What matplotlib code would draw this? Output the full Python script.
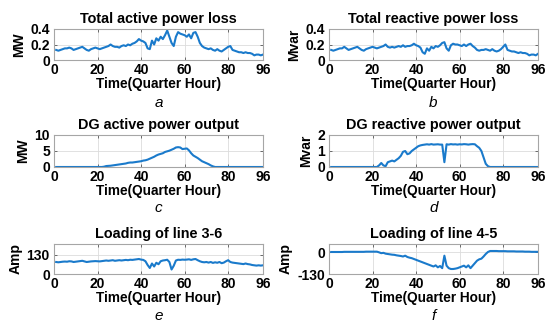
import numpy as np
import matplotlib
matplotlib.use("Agg")
from matplotlib import pyplot as plt
from matplotlib.ticker import FormatStrFormatter

plt.rcParams['font.family'] = ['Liberation Sans', 'DejaVu Sans']

# time axis: quarter hours
t = np.arange(1, 97)

# total active power loss (MW)
p_loss = [0.13, 0.12, 0.13, 0.14, 0.15, 0.15, 0.16, 0.15, 0.13, 0.14,
          0.15, 0.16, 0.17, 0.15, 0.13, 0.12, 0.14, 0.15, 0.16, 0.15,
          0.14, 0.15, 0.16, 0.17, 0.18, 0.20, 0.18, 0.17, 0.17, 0.16,
          0.18, 0.19, 0.18, 0.20, 0.19, 0.21, 0.22, 0.24, 0.27, 0.25,
          0.24, 0.22, 0.15, 0.14, 0.25, 0.20, 0.28, 0.25, 0.30, 0.27,
          0.32, 0.38, 0.30, 0.22, 0.18, 0.30, 0.36, 0.34, 0.33, 0.32,
          0.30, 0.33, 0.28, 0.35, 0.36, 0.30, 0.22, 0.18, 0.16, 0.15,
          0.14, 0.15, 0.13, 0.12, 0.14, 0.12, 0.11, 0.13, 0.15, 0.17,
          0.18, 0.13, 0.12, 0.11, 0.10, 0.10, 0.09, 0.10, 0.09, 0.09,
          0.08, 0.06, 0.07, 0.07, 0.06, 0.07]

# total reactive power loss (Mvar)
q_loss = [0.13, 0.12, 0.13, 0.14, 0.15, 0.15, 0.17, 0.15, 0.13, 0.14,
          0.15, 0.16, 0.17, 0.15, 0.13, 0.12, 0.14, 0.15, 0.16, 0.17,
          0.16, 0.15, 0.16, 0.17, 0.18, 0.20, 0.17, 0.16, 0.17, 0.16,
          0.17, 0.18, 0.17, 0.19, 0.17, 0.18, 0.18, 0.19, 0.21, 0.19,
          0.18, 0.16, 0.10, 0.08, 0.15, 0.12, 0.17, 0.15, 0.18, 0.17,
          0.19, 0.22, 0.23, 0.15, 0.12, 0.19, 0.21, 0.20, 0.20, 0.19,
          0.18, 0.20, 0.18, 0.20, 0.21, 0.18, 0.16, 0.13, 0.12, 0.13,
          0.13, 0.14, 0.13, 0.12, 0.14, 0.12, 0.11, 0.12, 0.14, 0.17,
          0.20, 0.13, 0.12, 0.11, 0.11, 0.10, 0.09, 0.10, 0.09, 0.09,
          0.08, 0.06, 0.07, 0.07, 0.06, 0.08]

# DG active power output (MW)
dg_p = [0] * 22 + [
    0.1, 0.3, 0.35, 0.4, 0.5, 0.6, 0.7, 0.8,
    0.9, 1.0, 1.1, 1.3, 1.4, 1.4, 1.5, 1.6, 1.7, 1.8,
    2.0, 2.1, 2.3, 2.6, 2.9, 3.2, 3.6, 3.9, 4.1, 4.3,
    4.7, 4.9, 5.1, 5.4, 5.7, 6.1, 6.2, 6.1, 5.6, 5.7,
    5.8, 5.2, 4.3, 3.6, 3.2, 2.8, 2.3, 1.8, 1.5, 1.2,
    0.9, 0.5, 0.2] + [0] * 23

# DG reactive power output (Mvar)
dg_q = [0] * 22 + [
    0.1, 0.25, 0.1, 0.05, 0.3, 0.35, 0.4, 0.35,
    0.45, 0.55, 0.7, 0.95, 1.0, 0.8, 0.85, 1.0, 1.1, 1.2,
    1.3, 1.35, 1.38, 1.4, 1.42, 1.4, 1.43, 1.4, 1.41, 1.42,
    1.4, 1.4, 0.3, 1.42, 1.4, 1.43, 1.41, 1.42, 1.4, 1.42,
    1.41, 1.43, 1.42, 1.4, 1.42, 1.43, 1.42, 1.3, 1.2, 1.0,
    0.6, 0.2, 0.05] + [0] * 23

# loading of line 3-6 (Amp)
line36 = [80, 78, 80, 82, 83, 82, 85, 84, 80, 82,
          84, 86, 88, 84, 80, 82, 84, 85, 86, 85,
          84, 86, 88, 90, 88, 90, 92, 88, 90, 92,
          90, 92, 94, 92, 95, 94, 96, 98, 100, 96,
          94, 85, 60, 40, 70, 50, 75, 65, 85, 90,
          92, 95, 80, 30, 55, 90, 95, 94, 96, 95,
          96, 98, 94, 98, 100, 92, 85, 80, 78, 80,
          76, 80, 74, 78, 75, 80, 72, 76, 85, 92,
          80, 76, 74, 72, 70, 68, 66, 70, 66, 64,
          60, 58, 56, 58, 56, 58]

# loading of line 4-5 (Amp)
line45 = [2, 2, 2, 2, 2, 2, 3, 3, 3, 3,
          3, 3, 3, 3, 3, 3, 4, 4, 4, 4,
          4, 4, 0, -5, -3, -8, -10, -12, -14, -15,
          -18, -20, -22, -25, -20, -28, -32, -35, -40, -45,
          -50, -55, -60, -65, -70, -75, -80, -85, -78, -90,
          -82, -95, -20, -80, -95, -100, -100, -98, -95, -90,
          -85, -80, -90, -78, -95, -80, -65, -50, -42, -38,
          -25, -10, 2, 8, 8, 8, 8, 7, 7, 7,
          7, 6, 6, 6, 6, 5, 5, 5, 5, 4,
          4, 4, 3, 3, 3, 3]

series = [p_loss, q_loss, dg_p, dg_q, line36, line45]
titles = ['Total active power loss', 'Total reactive power loss',
          'DG active power output', 'DG reactive power output',
          'Loading of line 3-6', 'Loading of line 4-5']
ylabels = ['MW', 'Mvar', 'MW', 'Mvar', 'Amp', 'Amp']
yticks = [[0, 0.2, 0.4], [0, 0.2, 0.4], [0, 5, 10], [0, 1, 2], [0, 130], [-130, 0]]
ylims = [(0, 0.4), (0, 0.4), (0, 10), (0, 2), (0, 200), (-130, 50)]
letters = ['a', 'b', 'c', 'd', 'e', 'f']
xticks = [0, 20, 40, 60, 80, 96]

W, H = 549, 327
fig = plt.figure(figsize=(W / 100, H / 100), dpi=100)

# axes boxes in pixels: (left, top, right, bottom)
cols = [(54, 263), (329, 538)]
rows = [(29, 60), (135, 167), (244, 274)]
letter_y = [103, 208, 316]

for i in range(6):
    r, c = divmod(i, 2)
    x0, x1 = cols[c]
    y0, y1 = rows[r]
    ax = fig.add_axes([x0 / W, 1 - y1 / H, (x1 - x0) / W, (y1 - y0) / H])
    ax.plot(t, series[i], color='#1a7acb', lw=1.5)
    ax.set_xlim(0, 96)
    ax.set_ylim(*ylims[i])
    ax.set_xticks(xticks)
    ax.set_yticks(yticks[i])
    ax.yaxis.set_major_formatter(FormatStrFormatter('%g'))
    ax.grid(True, color='#dcdcdc', lw=0.6)
    ax.tick_params(direction='in', length=2.5, width=0.6, color='#555555',
                   labelsize=10, top=True, right=True)
    ax.tick_params(axis='x', pad=2.5)
    ax.tick_params(axis='y', pad=3)
    for lab in ax.get_xticklabels() + ax.get_yticklabels():
        lab.set_fontweight('bold')
    for s in ax.spines.values():
        s.set_color('#a6a6a6')
        s.set_linewidth(0.8)
    ax.set_title(titles[i], fontsize=10.4, fontweight='bold', pad=4)
    ax.set_xlabel('Time(Quarter Hour)', fontsize=9.8, fontweight='bold', labelpad=0)
    ax.set_ylabel(ylabels[i], fontsize=10, fontweight='bold', labelpad=3)
    fig.text((x0 + x1) / 2 / W, 1 - letter_y[r] / H, letters[i],
             fontsize=11, style='italic', ha='center', va='center')

fig.savefig('out.png', dpi=100)
